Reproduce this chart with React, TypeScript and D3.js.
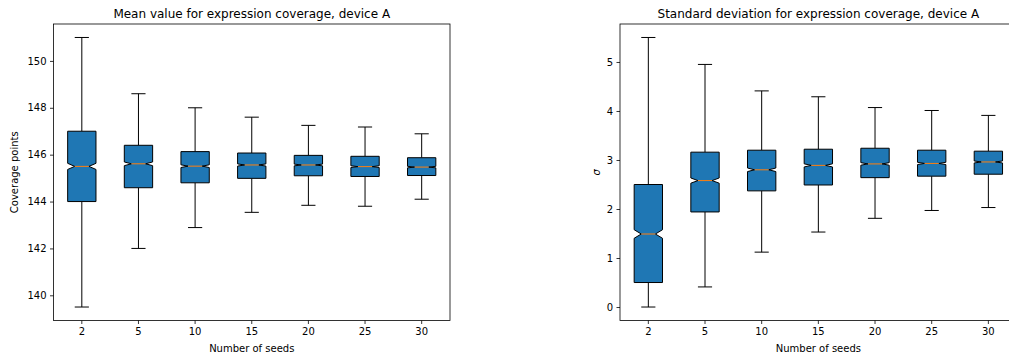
import React, { useEffect, useRef } from 'react';
import * as d3 from 'd3';

// number of seeds used per experiment (x categories)
const seeds = ['2', '5', '10', '15', '20', '25', '30'];

// mean value chart: whiskers, quartiles, medians
const meanLow = [139.5, 142.0, 142.89, 143.54, 143.84, 143.8, 144.1];
const meanQ1 = [144.0, 144.59, 144.8, 144.99, 145.1, 145.07, 145.11];
const meanMed = [145.5, 145.61, 145.51, 145.56, 145.56, 145.49, 145.47];
const meanQ3 = [147.0, 146.4, 146.13, 146.07, 145.97, 145.93, 145.87];
const meanHigh = [151.0, 148.6, 148.0, 147.6, 147.25, 147.18, 146.89];
const meanTicks = [140, 142, 144, 146, 148, 150];

// standard deviation chart
const sdLow = [0.0, 0.41, 1.12, 1.53, 1.81, 1.97, 2.03];
const sdQ1 = [0.5, 1.94, 2.37, 2.49, 2.64, 2.67, 2.71];
const sdMed = [1.49, 2.58, 2.8, 2.89, 2.92, 2.93, 2.96];
const sdQ3 = [2.5, 3.16, 3.2, 3.22, 3.24, 3.2, 3.18];
const sdHigh = [5.5, 4.95, 4.41, 4.29, 4.07, 4.01, 3.91];
const sdTicks = [0, 1, 2, 3, 4, 5];

// samples behind each box, used for the notch (1.57 * IQR / sqrt(n))
const sampleCount = 1300;

const FONT = 'DejaVu Sans, sans-serif';

interface PanelSpec {
  left: number;
  right: number;
  title: string;
  ylabel: string;
  ylabelItalic: boolean;
  ylabelX: number;
  low: number[];
  q1: number[];
  med: number[];
  q3: number[];
  high: number[];
  ticks: number[];
}

const panels: PanelSpec[] = [
  {
    left: 53.5, right: 450, title: 'Mean value for expression coverage, device A',
    ylabel: 'Coverage points', ylabelItalic: false, ylabelX: 17.5,
    low: meanLow, q1: meanQ1, med: meanMed, q3: meanQ3, high: meanHigh, ticks: meanTicks,
  },
  {
    left: 620, right: 1016.7, title: 'Standard deviation for expression coverage, device A',
    ylabel: 'σ', ylabelItalic: true, ylabelX: 600,
    low: sdLow, q1: sdQ1, med: sdMed, q3: sdQ3, high: sdHigh, ticks: sdTicks,
  },
];

const TOP = 24;
const BOTTOM = 320.5;

const App: React.FC = () => {
  const svgRef = useRef<SVGSVGElement>(null);

  useEffect(() => {
    if (!svgRef.current) return;
    const svg = d3.select(svgRef.current);
    svg.selectAll('*').remove();

    panels.forEach(p => {
      const g = svg.append('g');

      const x = d3.scaleBand<string>()
        .domain(seeds)
        .range([p.left, p.right])
        .paddingInner(0)
        .paddingOuter(0);

      const lo = d3.min(p.low) as number;
      const hi = d3.max(p.high) as number;
      const pad = (hi - lo) * 0.05;
      const y = d3.scaleLinear()
        .domain([lo - pad, hi + pad])
        .range([BOTTOM, TOP]);

      // axes
      const xAxis = g.append('g')
        .attr('transform', `translate(0,${BOTTOM})`)
        .call(d3.axisBottom(x).tickSize(3.5).tickPadding(3.5));
      const yAxis = g.append('g')
        .attr('transform', `translate(${p.left},0)`)
        .call(d3.axisLeft(y).tickValues(p.ticks).tickFormat(d3.format('d')).tickSize(3.5).tickPadding(3.5));
      [xAxis, yAxis].forEach(a => {
        a.select('.domain').remove();
        a.selectAll('line').attr('stroke', '#000').attr('stroke-width', 0.8);
        a.selectAll('text').attr('font-family', FONT).attr('font-size', 10).attr('fill', '#000');
      });

      const bw = x.bandwidth() * 0.5;
      const cw = bw * 0.5;

      seeds.forEach((s, i) => {
        const cx = (x(s) as number) + x.bandwidth() / 2;
        const bl = cx - bw / 2, br = cx + bw / 2;
        const cl = cx - cw / 2, cr = cx + cw / 2;
        const notch = 1.57 * (p.q3[i] - p.q1[i]) / Math.sqrt(sampleCount);
        const nLo = p.med[i] - notch, nHi = p.med[i] + notch;

        // whiskers and caps
        g.append('line').attr('x1', cx).attr('x2', cx)
          .attr('y1', y(p.q1[i])).attr('y2', y(p.low[i]))
          .attr('stroke', '#000').attr('stroke-width', 1);
        g.append('line').attr('x1', cx).attr('x2', cx)
          .attr('y1', y(p.q3[i])).attr('y2', y(p.high[i]))
          .attr('stroke', '#000').attr('stroke-width', 1);
        [p.low[i], p.high[i]].forEach(v => {
          g.append('line').attr('x1', cl).attr('x2', cr)
            .attr('y1', y(v)).attr('y2', y(v))
            .attr('stroke', '#000').attr('stroke-width', 1);
        });

        // notched box
        const pts: [number, number][] = [
          [bl, y(p.q1[i])], [br, y(p.q1[i])], [br, y(nLo)], [cr, y(p.med[i])],
          [br, y(nHi)], [br, y(p.q3[i])], [bl, y(p.q3[i])], [bl, y(nHi)],
          [cl, y(p.med[i])], [bl, y(nLo)],
        ];
        g.append('path')
          .attr('d', d3.line()(pts) + 'Z')
          .attr('fill', '#1f77b4')
          .attr('stroke', '#000')
          .attr('stroke-width', 1)
          .attr('stroke-linejoin', 'miter');

        g.append('line').attr('x1', cl).attr('x2', cr)
          .attr('y1', y(p.med[i])).attr('y2', y(p.med[i]))
          .attr('stroke', '#ff7f0e').attr('stroke-width', 1);
      });

      // frame
      g.append('rect')
        .attr('x', p.left).attr('y', TOP)
        .attr('width', p.right - p.left).attr('height', BOTTOM - TOP)
        .attr('fill', 'none').attr('stroke', '#000').attr('stroke-width', 0.8);

      g.append('text')
        .attr('x', (p.left + p.right) / 2).attr('y', 18)
        .attr('text-anchor', 'middle')
        .attr('font-family', FONT).attr('font-size', 12)
        .text(p.title);

      g.append('text')
        .attr('x', (p.left + p.right) / 2).attr('y', 351.5)
        .attr('text-anchor', 'middle')
        .attr('font-family', FONT).attr('font-size', 10)
        .text('Number of seeds');

      g.append('text')
        .attr('transform', `translate(${p.ylabelX},${(TOP + BOTTOM) / 2}) rotate(-90)`)
        .attr('text-anchor', 'middle')
        .attr('font-family', FONT).attr('font-size', 10)
        .attr('font-style', p.ylabelItalic ? 'italic' : 'normal')
        .text(p.ylabel);
    });
  }, []);

  return (
    <svg
      ref={svgRef}
      width={1009}
      height={356}
      style={{ position: 'absolute', left: 0, top: 0, background: '#fff' }}
    />
  );
};

export default App;
